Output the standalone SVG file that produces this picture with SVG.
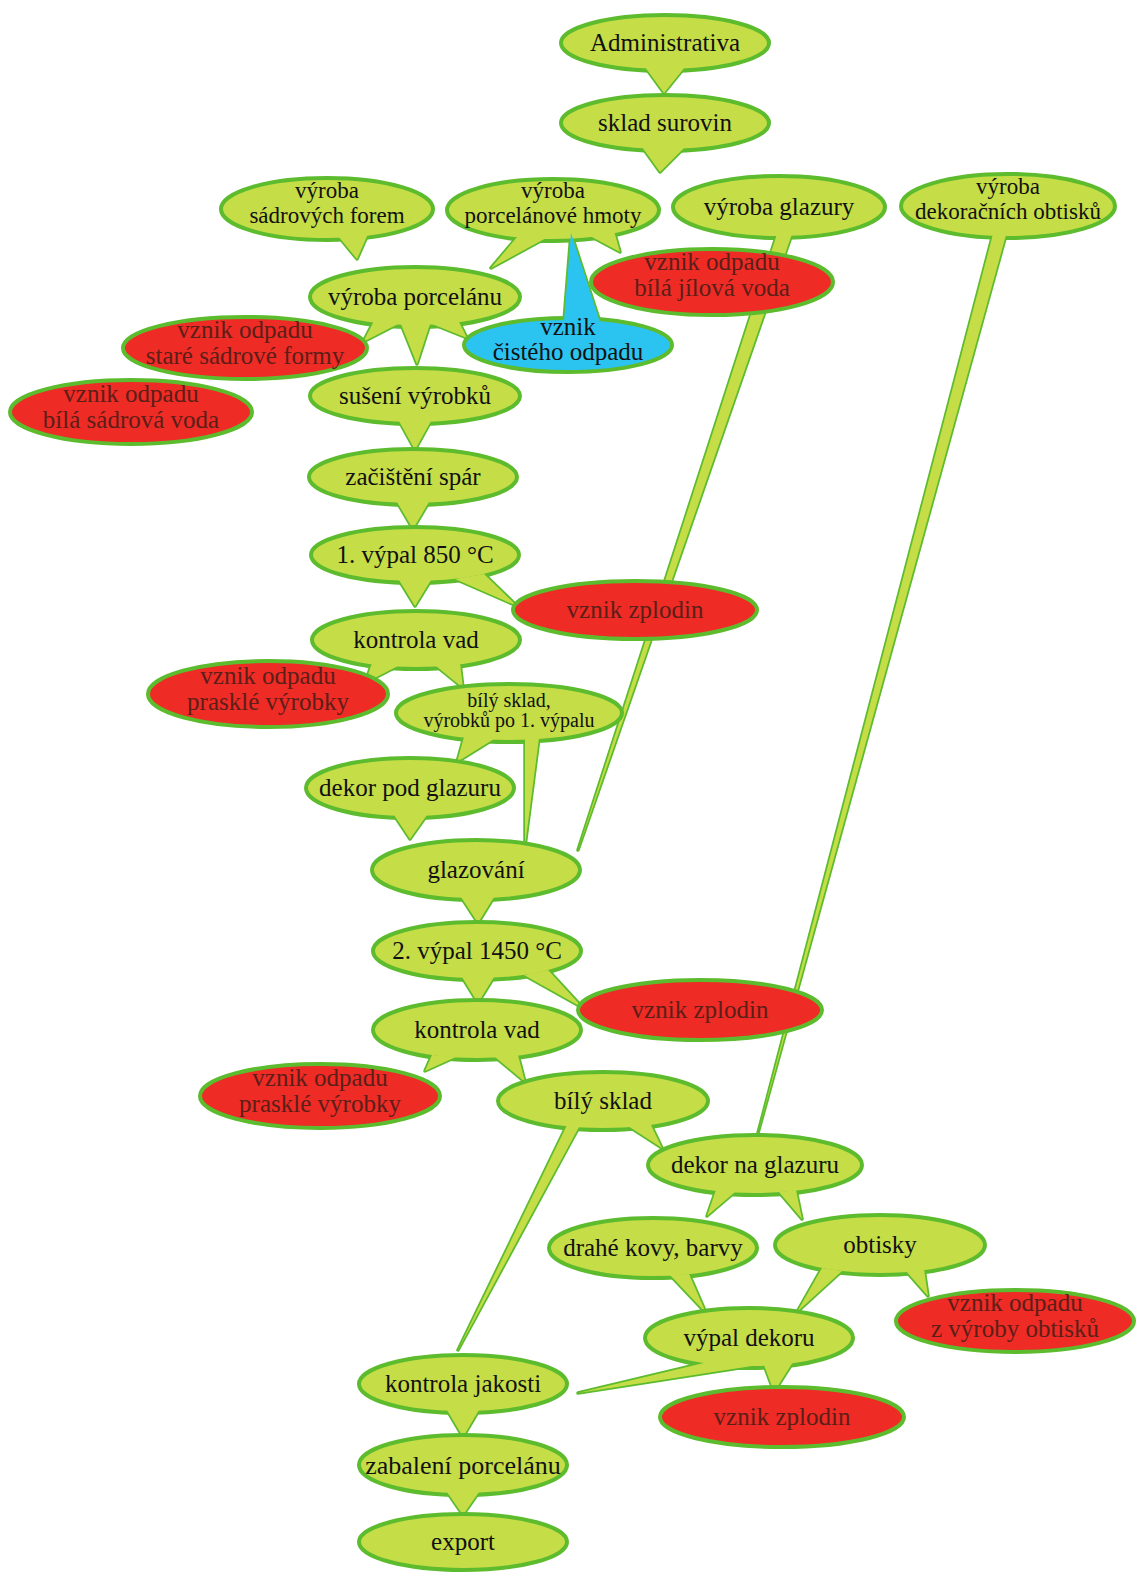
<svg xmlns="http://www.w3.org/2000/svg" xmlns:xlink="http://www.w3.org/1999/xlink" width="1137" height="1573" viewBox="0 0 1137 1573">
<style>
.g ellipse{fill:#c5dd47;stroke:#5dbb2e;stroke-width:4}
.r ellipse{fill:#ee2b25;stroke:#5dbb2e;stroke-width:4}
.b ellipse{fill:#2bc3ef;stroke:#5dbb2e;stroke-width:4}
.tl{fill:#c5dd47;stroke:#5dbb2e;stroke-width:3.5;stroke-linejoin:round}
.tlb{fill:#2bc3ef;stroke:#5dbb2e;stroke-width:3.5;stroke-linejoin:round}
.tf{fill:#c5dd47;stroke:none}
.tfb{fill:#2bc3ef;stroke:none}
text{font-family:"Liberation Serif","Times New Roman",serif;font-size:25px;text-anchor:middle;fill:#111}
.r text{fill:#5c1e18}
.sm{font-size:20px}
.md{font-size:23px}
.lg{font-size:26px}
</style>
<defs>
<path id="t1" d="M645,67 L664,93 L685,67 Z"/>
<path id="t2" d="M642,147 L660,172 L685,147 Z"/>
<path id="t3" d="M338,236 L357,259 L368,234 Z"/>
<path id="t4a" d="M518,236 L491,268 L548,237 Z"/>
<path id="t4b" d="M590,236 L620,252 L614,231 Z"/>
<path id="t5" d="M777,234 L578,850 L792,234 Z"/>
<path id="t6" d="M993,234 L758,1133 L1006,235 Z"/>
<path id="t7a" d="M374,321 L363,342 L398,324 Z"/>
<path id="t7b" d="M401,324 L417,364 L430,324 Z"/>
<path id="t7c" d="M432,324 L467,338 L458,320 Z"/>
<path id="tb" d="M564,321 L571,233 L600,322 Z"/>
<path id="t8" d="M399,421 L415,450 L431,421 Z"/>
<path id="t9" d="M397,502 L413,529 L429,502 Z"/>
<path id="t10a" d="M399,580 L415,606 L431,580 Z"/>
<path id="t10b" d="M455,579 L517,606 L484,574 Z"/>
<path id="t11a" d="M372,663 L365,683 L398,666 Z"/>
<path id="t11b" d="M436,666 L463,688 L460,663 Z"/>
<path id="t12a" d="M464,737 L457,762 L494,739 Z"/>
<path id="t12b" d="M525,739 L525,846 L539,738 Z"/>
<path id="t13" d="M394,815 L410,839 L427,815 Z"/>
<path id="t14" d="M461,897 L478,923 L494,897 Z"/>
<path id="t15a" d="M462,977 L478,1003 L494,977 Z"/>
<path id="t15b" d="M524,975 L583,1008 L548,970 Z"/>
<path id="t16a" d="M432,1055 L425,1071 L456,1057 Z"/>
<path id="t16b" d="M495,1057 L525,1082 L518,1055 Z"/>
<path id="t17a" d="M567,1125 L458,1350 L579,1127 Z"/>
<path id="t17b" d="M628,1126 L662,1148 L650,1123 Z"/>
<path id="t18a" d="M716,1190 L707,1216 L735,1192 Z"/>
<path id="t18b" d="M779,1192 L802,1219 L796,1190 Z"/>
<path id="t19" d="M670,1275 L706,1313 L689,1274 Z"/>
<path id="t20a" d="M822,1268 L797,1312 L842,1271 Z"/>
<path id="t20b" d="M906,1271 L928,1296 L924,1269 Z"/>
<path id="t21a" d="M708,1362 L578,1393 L752,1366 Z"/>
<path id="t21b" d="M764,1365 L774,1392 L793,1362 Z"/>
<path id="t22" d="M447,1410 L463,1437 L479,1410 Z"/>
<path id="t23" d="M447,1492 L463,1515 L479,1492 Z"/>
</defs>
<rect width="1137" height="1573" fill="#ffffff"/>
<g id="connectors">
<use href="#t1" class="tl"/><use href="#t2" class="tl"/><use href="#t3" class="tl"/>
<use href="#t4a" class="tl"/><use href="#t4b" class="tl"/><use href="#t5" class="tl"/>
<use href="#t6" class="tl"/><use href="#t7a" class="tl"/><use href="#t7b" class="tl"/>
<use href="#t7c" class="tl"/><use href="#tb" class="tlb"/><use href="#t8" class="tl"/>
<use href="#t9" class="tl"/><use href="#t10a" class="tl"/><use href="#t10b" class="tl"/>
<use href="#t11a" class="tl"/><use href="#t11b" class="tl"/><use href="#t12a" class="tl"/>
<use href="#t12b" class="tl"/><use href="#t13" class="tl"/><use href="#t14" class="tl"/>
<use href="#t15a" class="tl"/><use href="#t15b" class="tl"/><use href="#t16a" class="tl"/>
<use href="#t16b" class="tl"/><use href="#t17a" class="tl"/><use href="#t17b" class="tl"/>
<use href="#t18a" class="tl"/><use href="#t18b" class="tl"/><use href="#t19" class="tl"/>
<use href="#t20a" class="tl"/><use href="#t20b" class="tl"/><use href="#t21a" class="tl"/>
<use href="#t21b" class="tl"/><use href="#t22" class="tl"/><use href="#t23" class="tl"/>
</g>
<g id="administrativa" class="g"><ellipse cx="665" cy="43" rx="104" ry="28"/><use href="#t1" class="tf"/><text x="665" y="51">Administrativa</text></g>
<g id="sklad-surovin" class="g"><ellipse cx="665" cy="123" rx="104" ry="28"/><use href="#t2" class="tf"/><text x="665" y="131">sklad surovin</text></g>
<g id="vyroba-sadrovych-forem" class="g"><ellipse cx="327" cy="209" rx="106" ry="31"/><use href="#t3" class="tf"/><text class="md" x="327" y="198">výroba</text><text class="md" x="327" y="223">sádrových forem</text></g>
<g id="vyroba-porcelanove-hmoty" class="g"><ellipse cx="553" cy="210" rx="106" ry="31"/><use href="#t4a" class="tf"/><use href="#t4b" class="tf"/><text class="md" x="553" y="198">výroba</text><text class="md" x="553" y="223">porcelánové hmoty</text></g>
<g id="vyroba-glazury" class="g"><ellipse cx="779" cy="207" rx="106" ry="31"/><use href="#t5" class="tf"/><text x="779" y="215">výroba glazury</text></g>
<g id="vyroba-dekoracnich-obtisku" class="g"><ellipse cx="1008" cy="206" rx="107" ry="32"/><use href="#t6" class="tf"/><text class="md" x="1008" y="194">výroba</text><text class="md" x="1008" y="219">dekoračních obtisků</text></g>
<g id="odpad-jilova-voda" class="r"><ellipse cx="712" cy="282" rx="121" ry="33"/><text x="712" y="270">vznik odpadu</text><text x="712" y="296">bílá jílová voda</text></g>
<g id="vyroba-porcelanu" class="g"><ellipse cx="415" cy="297" rx="105" ry="30"/><use href="#t7a" class="tf"/><use href="#t7b" class="tf"/><use href="#t7c" class="tf"/><text x="415" y="305">výroba porcelánu</text></g>
<g id="cisty-odpad" class="b"><ellipse cx="568" cy="345" rx="104" ry="27"/><use href="#tb" class="tfb"/><text x="568" y="335">vznik</text><text x="568" y="360">čistého odpadu</text></g>
<g id="odpad-sadrove-formy" class="r"><ellipse cx="245" cy="348" rx="122" ry="31"/><text x="245" y="338">vznik odpadu</text><text x="245" y="364">staré sádrové formy</text></g>
<g id="odpad-sadrova-voda" class="r"><ellipse cx="131" cy="412" rx="121" ry="32"/><text x="131" y="402">vznik odpadu</text><text x="131" y="428">bílá sádrová voda</text></g>
<g id="suseni" class="g"><ellipse cx="415" cy="396" rx="105" ry="28"/><use href="#t8" class="tf"/><text x="415" y="404">sušení výrobků</text></g>
<g id="zacisteni" class="g"><ellipse cx="413" cy="477" rx="104" ry="28"/><use href="#t9" class="tf"/><text x="413" y="485">začištění spár</text></g>
<g id="vypal-1" class="g"><ellipse cx="415" cy="555" rx="104" ry="28"/><use href="#t10a" class="tf"/><use href="#t10b" class="tf"/><text x="415" y="563">1. výpal 850 °C</text></g>
<g id="zplodiny-1" class="r"><ellipse cx="635" cy="610" rx="122" ry="29"/><text x="635" y="618">vznik zplodin</text></g>
<g id="kontrola-vad-1" class="g"><ellipse cx="416" cy="640" rx="104" ry="29"/><use href="#t11a" class="tf"/><use href="#t11b" class="tf"/><text x="416" y="648">kontrola vad</text></g>
<g id="praskle-1" class="r"><ellipse cx="268" cy="694" rx="120" ry="33"/><text x="268" y="684">vznik odpadu</text><text x="268" y="710">prasklé výrobky</text></g>
<g id="bily-sklad-1" class="g"><ellipse cx="509" cy="713" rx="113" ry="29"/><use href="#t12a" class="tf"/><use href="#t12b" class="tf"/><text class="sm" x="509" y="707">bílý sklad,</text><text class="sm" x="509" y="727">výrobků po 1. výpalu</text></g>
<g id="dekor-pod-glazuru" class="g"><ellipse cx="410" cy="788" rx="104" ry="30"/><use href="#t13" class="tf"/><text x="410" y="796">dekor pod glazuru</text></g>
<g id="glazovani" class="g"><ellipse cx="476" cy="870" rx="104" ry="30"/><use href="#t14" class="tf"/><text x="476" y="878">glazování</text></g>
<g id="vypal-2" class="g"><ellipse cx="477" cy="951" rx="104" ry="29"/><use href="#t15a" class="tf"/><use href="#t15b" class="tf"/><text x="477" y="959">2. výpal 1450 °C</text></g>
<g id="zplodiny-2" class="r"><ellipse cx="700" cy="1010" rx="122" ry="30"/><text x="700" y="1018">vznik zplodin</text></g>
<g id="kontrola-vad-2" class="g"><ellipse cx="477" cy="1030" rx="104" ry="30"/><use href="#t16a" class="tf"/><use href="#t16b" class="tf"/><text x="477" y="1038">kontrola vad</text></g>
<g id="praskle-2" class="r"><ellipse cx="320" cy="1096" rx="120" ry="32"/><text x="320" y="1086">vznik odpadu</text><text x="320" y="1112">prasklé výrobky</text></g>
<g id="bily-sklad-2" class="g"><ellipse cx="603" cy="1101" rx="105" ry="29"/><use href="#t17a" class="tf"/><use href="#t17b" class="tf"/><text x="603" y="1109">bílý sklad</text></g>
<g id="dekor-na-glazuru" class="g"><ellipse cx="755" cy="1165" rx="107" ry="30"/><use href="#t18a" class="tf"/><use href="#t18b" class="tf"/><text x="755" y="1173">dekor na glazuru</text></g>
<g id="drahe-kovy" class="g"><ellipse cx="653" cy="1248" rx="104" ry="30"/><use href="#t19" class="tf"/><text x="653" y="1256">drahé kovy, barvy</text></g>
<g id="obtisky" class="g"><ellipse cx="880" cy="1245" rx="105" ry="30"/><use href="#t20a" class="tf"/><use href="#t20b" class="tf"/><text x="880" y="1253">obtisky</text></g>
<g id="odpad-obtisky" class="r"><ellipse cx="1015" cy="1321" rx="119" ry="31"/><text x="1015" y="1311">vznik odpadu</text><text x="1015" y="1337">z výroby obtisků</text></g>
<g id="vypal-dekoru" class="g"><ellipse cx="749" cy="1338" rx="104" ry="30"/><use href="#t21a" class="tf"/><use href="#t21b" class="tf"/><text x="749" y="1346">výpal dekoru</text></g>
<g id="kontrola-jakosti" class="g"><ellipse cx="463" cy="1384" rx="104" ry="29"/><use href="#t22" class="tf"/><text x="463" y="1392">kontrola jakosti</text></g>
<g id="zplodiny-3" class="r"><ellipse cx="782" cy="1417" rx="122" ry="30"/><text x="782" y="1425">vznik zplodin</text></g>
<g id="zabaleni" class="g"><ellipse cx="463" cy="1465" rx="104" ry="30"/><use href="#t23" class="tf"/><text class="lg" x="463" y="1474">zabalení porcelánu</text></g>
<g id="export" class="g"><ellipse cx="463" cy="1542" rx="104" ry="28"/><text x="463" y="1550">export</text></g>
</svg>
